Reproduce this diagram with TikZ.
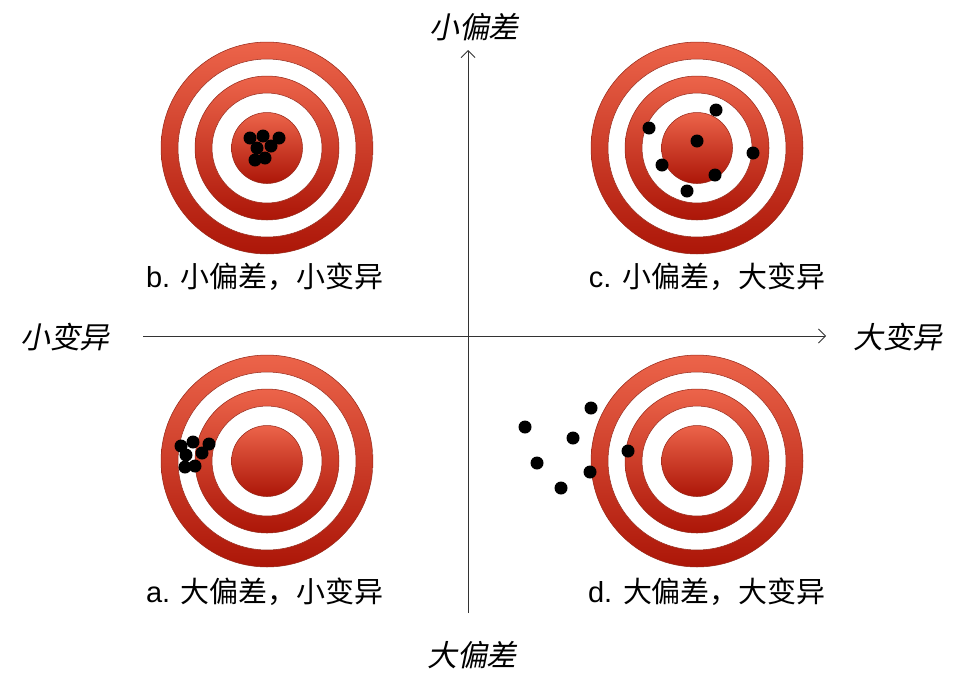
\documentclass[tikz,border=0pt]{standalone}
\usepackage{fontspec}
\usetikzlibrary{arrows.meta}
\setmainfont{Liberation Sans}
\newfontfamily\cjk{Noto Sans CJK SC}
\newfontfamily\cjkit[FakeSlant=0.2]{Noto Sans CJK SC}
\definecolor{ringtop}{RGB}{236,100,74}
\definecolor{ringbot}{RGB}{172,22,8}
\definecolor{ringedge}{RGB}{150,40,25}
\begin{document}
\begin{tikzpicture}[x=0.02cm, y=-0.02cm,
    ring/.style = {circle, inner sep=0pt, draw=ringedge, line width=0.3pt, top color=ringtop, bottom color=ringbot},
    hole/.style = {circle, inner sep=0pt, draw=ringedge, line width=0.3pt, fill=white},
    shot/.style = {circle, inner sep=0pt, fill=black, minimum size=0.26cm},
    axis/.style = {draw=black!80, line width=0.5pt, -{Straight Barb[length=4pt, width=8pt]}},
    caption/.style = {font=\fontsize{16.5}{20}\selectfont},
    side/.style = {font=\cjkit\fontsize{17}{20}\selectfont}]
\useasboundingbox (0,0) rectangle (959,677);
% four targets
\foreach \t/\x/\y in {tb/267/148, tc/697/148, ta/267/461, td/697/461} {
    \node[ring, minimum size=4.24cm] (\t) at (\x,\y) {};
    \node[hole, minimum size=3.56cm] (\t-1) at (\t) {};
    \node[ring, minimum size=2.88cm] (\t-2) at (\t) {};
    \node[hole, minimum size=2.2cm] (\t-3) at (\t) {};
    \node[ring, minimum size=1.42cm] (\t-4) at (\t) {};
}
% shots
\foreach \x/\y in {250/138, 263/136, 279/138, 257/148, 271/146, 255/160, 265/158}
    \node[shot] at (\x,\y) {};
\foreach \x/\y in {716/110, 649/128, 697/141, 753/153, 662/165, 715/175, 687/191}
    \node[shot] at (\x,\y) {};
\foreach \x/\y in {181/446, 193/442, 209/444, 186/455, 202/453, 185/467, 195/466}
    \node[shot] at (\x,\y) {};
\foreach \x/\y in {591/408, 525/427, 573/438, 628/451, 537/463, 590/472, 561/488}
    \node[shot] at (\x,\y) {};
% axes
\coordinate (vbot) at (468,613);
\coordinate (vtop) at (468,50);
\coordinate (hleft) at (143,336);
\coordinate (hright) at (826,336);
\draw[axis] (vbot) -- (vtop);
\draw[axis] (hleft) -- (hright);
\node[side] (lowbias) at (474,27) {小偏差};
\node[side] (highbias) at (472,655) {大偏差};
\node[side] (lowvar) at (65,337) {小变异};
\node[side] (highvar) at (898,337) {大变异};
% captions
\node[caption] (capb) at (265,277) {b. {\cjk 小偏差，小变异}};
\node[caption] (capc) at (707,277) {c. {\cjk 小偏差，大变异}};
\node[caption] (capa) at (265,592) {a. {\cjk 大偏差，小变异}};
\node[caption] (capd) at (707,592) {d. {\cjk 大偏差，大变异}};
\end{tikzpicture}
\end{document}
